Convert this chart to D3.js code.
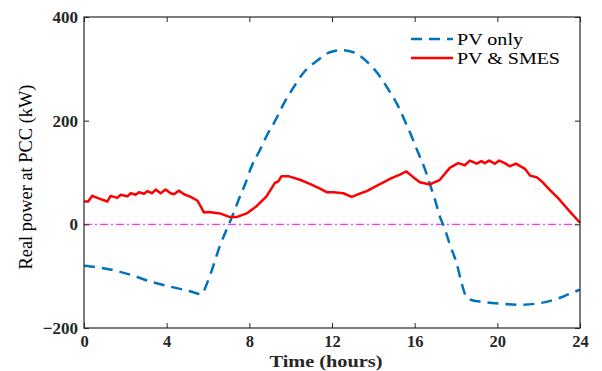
<!DOCTYPE html>
<html><head><meta charset="utf-8">
<script src="https://cdn.jsdelivr.net/npm/d3@7"></script>
<style>body{margin:0;background:#fff}svg{display:block}</style>
</head><body><svg id="c" width="602" height="371"></svg>
<script>
const xTicks = [0, 4, 8, 12, 16, 20, 24];
const yTicks = [-200, 0, 200, 400];
const seriesNames = ["PV only", "PV & SMES"];

const pvT = [0, 1.26, 2.23, 3.19, 4.16, 5.13, 5.69, 5.93, 6.25, 6.57, 6.9, 7.14, 7.55, 7.79, 8.11, 8.52, 8.83, 9.24, 9.64, 10.12, 10.61, 11.26, 11.9, 12.47, 13.04, 13.76, 14.25, 14.73, 15.2, 15.53, 15.85, 16.17, 16.5, 16.74, 16.98, 17.22, 17.47, 17.7, 18.03, 18.27, 18.5, 18.75, 19.16, 20.1, 21.1, 22.06, 22.87, 23.5, 24];
const pvV = [-80, -87, -97, -110, -120, -129, -135, -116, -81, -42, -10, 12, 54, 77, 112, 144, 170, 199, 231, 263, 292, 315, 332, 336, 332, 311, 289, 260, 228, 199, 170, 138, 106, 77, 48, 15, -10, -39, -75, -113, -140, -146, -149, -153, -155, -152, -144, -134, -126];

const smT = [0, 0.2, 0.4, 0.64, 1.13, 1.29, 1.61, 1.77, 2.1, 2.26, 2.5, 2.66, 2.9, 3.06, 3.3, 3.47, 3.71, 3.95, 4.19, 4.35, 4.6, 4.84, 5.16, 5.48, 5.64, 5.8, 6.04, 6.58, 7.06, 7.38, 7.87, 8.35, 8.83, 9.24, 9.4, 9.56, 9.88, 10.45, 10.93, 11.42, 11.74, 12.06, 12.55, 12.95, 13.2, 13.68, 14.3, 14.88, 15.29, 15.6, 15.93, 16.25, 16.74, 17.22, 17.7, 18.1, 18.43, 18.67, 19.0, 19.23, 19.4, 19.6, 19.88, 20.09, 20.36, 20.6, 20.9, 21.34, 21.58, 21.9, 22.2, 22.5, 23.0, 23.5, 24];
const smV = [44, 44, 55, 51, 44, 55, 51, 57, 54, 60, 57, 62, 59, 64, 60, 67, 60, 67, 60, 58, 65, 58, 53, 46, 35, 23, 24, 21, 14, 14, 21, 35, 54, 80, 83, 93, 93, 86, 78, 69, 62, 62, 60, 53, 57, 64, 77, 89, 96, 102, 91, 81, 77, 86, 109, 118, 114, 123, 117, 122, 118, 123, 117, 123, 118, 112, 117, 107, 94, 91, 81, 68, 48, 25, 3];

const svg = d3.select("#c");
const L = 84, R = 580, T = 17, B = 328;
const x = d3.scaleLinear().domain([0, 24]).range([L, R]);
const y = d3.scaleLinear().domain([-200, 400]).range([B, T]);
const font = "'Liberation Serif', 'Times New Roman', serif";

// zero line
svg.append("line").attr("x1", x(0)).attr("x2", x(24)).attr("y1", y(0)).attr("y2", y(0))
  .attr("stroke", "#ff33ff").attr("stroke-width", 1.2).attr("stroke-dasharray", "8,3,2,3");

const line = d3.line().x(d => x(d[0])).y(d => y(d[1])).curve(d3.curveMonotoneX);

svg.append("path").datum(pvT.map((t, i) => [t, pvV[i]]))
  .attr("d", line).attr("fill", "none").attr("stroke", "#0072bd")
  .attr("stroke-width", 2.5).attr("stroke-dasharray", "11,7");

svg.append("path").datum(smT.map((t, i) => [t, smV[i]]))
  .attr("d", d3.line().x(d => x(d[0])).y(d => y(d[1])))
  .attr("fill", "none").attr("stroke", "#ff0000").attr("stroke-width", 2.5)
  .attr("stroke-linejoin", "round");

// axes box with inward ticks
const tickStyle = g => {
  g.select(".domain").remove();
  g.selectAll("line").attr("stroke", "#262626").attr("stroke-width", 1);
};
svg.append("g").attr("transform", `translate(0,${B})`)
  .call(d3.axisBottom(x).tickValues(xTicks).tickSizeInner(-5).tickSizeOuter(0).tickPadding(7))
  .call(tickStyle)
  .call(g => g.selectAll("text").attr("font-family", font).attr("font-size", 16.5).attr("font-weight", "bold").attr("fill", "#262626"));
svg.append("g").attr("transform", `translate(0,${T})`)
  .call(d3.axisTop(x).tickValues(xTicks).tickSizeInner(-5).tickSizeOuter(0).tickFormat(""))
  .call(tickStyle);
svg.append("g").attr("transform", `translate(${L},0)`)
  .call(d3.axisLeft(y).tickValues(yTicks).tickSizeInner(-5).tickSizeOuter(0).tickPadding(6).tickFormat(d3.format("d")))
  .call(tickStyle)
  .call(g => g.selectAll("text").attr("font-family", font).attr("font-size", 17).attr("font-weight", "bold").attr("fill", "#262626"));
svg.append("g").attr("transform", `translate(${R},0)`)
  .call(d3.axisRight(y).tickValues(yTicks).tickSizeInner(-5).tickSizeOuter(0).tickFormat(""))
  .call(tickStyle);
svg.append("rect").attr("x", L).attr("y", T).attr("width", R - L).attr("height", B - T)
  .attr("fill", "none").attr("stroke", "#262626").attr("stroke-width", 1.2);

// axis labels
svg.append("text").attr("x", 326).attr("y", 367).attr("text-anchor", "middle")
  .attr("font-family", font).attr("font-size", 17).attr("font-weight", "bold").attr("fill", "#262626")
  .attr("textLength", 113).attr("lengthAdjust", "spacingAndGlyphs")
  .text("Time (hours)");
svg.append("text").attr("transform", `translate(32,177) rotate(-90)`).attr("text-anchor", "middle")
  .attr("font-family", font).attr("font-size", 19).attr("fill", "#000")
  .attr("textLength", 185).attr("lengthAdjust", "spacingAndGlyphs")
  .text("Real power at PCC (kW)");

// legend
const leg = svg.append("g");
const legColors = ["#0072bd", "#ff0000"];
const legDash = ["11,7", null];
const legLen = [66, 103];
seriesNames.forEach((n, i) => {
  const yy = 39 + i * 19;
  leg.append("line").attr("x1", 411).attr("x2", 453).attr("y1", yy).attr("y2", yy)
    .attr("stroke", legColors[i]).attr("stroke-width", 2.5).attr("stroke-dasharray", legDash[i]);
  leg.append("text").attr("x", 457).attr("y", yy + 6).attr("font-family", font).attr("font-size", 17)
    .attr("textLength", legLen[i]).attr("lengthAdjust", "spacingAndGlyphs")
    .attr("fill", "#000").text(n);
});
</script></body></html>
